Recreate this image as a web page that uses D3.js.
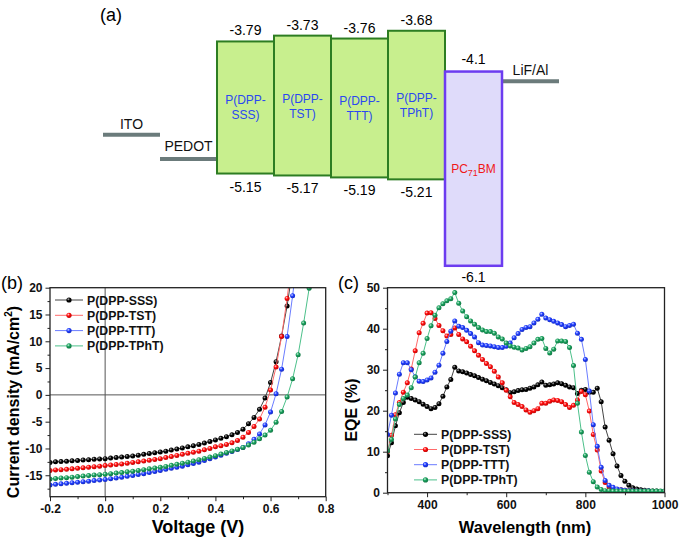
<!DOCTYPE html>
<html><head><meta charset="utf-8">
<script src="https://cdn.jsdelivr.net/npm/d3@7"></script>
<style>body{margin:0;background:#fff}svg{display:block}text{font-family:"Liberation Sans",Arial,sans-serif}</style>
</head><body><svg id="chart" width="679" height="538"></svg>
<script>
// ---------- Panel (a): energy levels ----------
const layerOrder = ["ITO","PEDOT","P(DPP-SSS)","P(DPP-TST)","P(DPP-TTT)","P(DPP-TPhT)","PC71BM","LiF/Al"];
const electrodes = ["ITO","PEDOT","LiF/Al"];
const electrodeLevels = [-4.75,-5.0,-4.2];
const donors = ["P(DPP-SSS)","P(DPP-TST)","P(DPP-TTT)","P(DPP-TPhT)"];
const donorLUMO = [-3.79,-3.73,-3.76,-3.68];
const donorHOMO = [-5.15,-5.17,-5.19,-5.21];
const acceptors = ["PC71BM"];
const acceptorLUMO = [-4.1];
const acceptorHOMO = [-6.1];

// ---------- Panel (b): J-V ----------
const seriesNames = ["P(DPP-SSS)","P(DPP-TST)","P(DPP-TTT)","P(DPP-TPhT)"];
const voltages = [-0.20,-0.18,-0.16,-0.14,-0.12,-0.10,-0.08,-0.06,-0.04,-0.02,0.00,0.02,0.04,0.06,0.08,0.10,0.12,0.14,0.16,0.18,0.20,0.22,0.24,0.26,0.28,0.30,0.32,0.34,0.36,0.38,0.40,0.42,0.44,0.46,0.48,0.50,0.52,0.54,0.56,0.58,0.60,0.62,0.64,0.66,0.68,0.70,0.72,0.74,0.76];
const jSSS = [-12.6,-12.5,-12.45,-12.4,-12.3,-12.25,-12.15,-12.1,-12.0,-11.95,-11.9,-11.8,-11.7,-11.6,-11.5,-11.4,-11.25,-11.1,-10.95,-10.8,-10.65,-10.5,-10.3,-10.1,-9.9,-9.7,-9.5,-9.25,-9.0,-8.7,-8.4,-8.1,-7.8,-7.45,-7.0,-6.4,-5.4,-4.2,-2.7,-0.6,2.3,6.2,11.0,16.6,23.5];
const jTST = [-14.1,-14.0,-13.95,-13.9,-13.8,-13.7,-13.6,-13.5,-13.4,-13.3,-13.2,-13.1,-13.0,-12.9,-12.75,-12.6,-12.5,-12.35,-12.2,-12.05,-11.9,-11.7,-11.5,-11.3,-11.1,-10.9,-10.7,-10.5,-10.25,-10.0,-9.7,-9.5,-9.25,-8.95,-8.5,-7.9,-7.0,-5.9,-4.5,-2.3,0.9,5.2,10.9,18.0,26.0];
const jTTT = [-16.8,-16.7,-16.6,-16.5,-16.4,-16.3,-16.2,-16.1,-16.0,-15.9,-15.8,-15.65,-15.5,-15.35,-15.2,-15.05,-14.85,-14.7,-14.5,-14.3,-14.1,-13.9,-13.7,-13.5,-13.3,-13.05,-12.8,-12.55,-12.25,-11.9,-11.6,-11.25,-10.9,-10.55,-10.2,-9.8,-9.1,-8.3,-7.3,-5.6,-3.2,0.2,4.8,10.9,18.5,27.0];
const jTPhT = [-15.7,-15.6,-15.5,-15.45,-15.35,-15.25,-15.15,-15.05,-14.95,-14.9,-14.8,-14.7,-14.6,-14.5,-14.35,-14.25,-14.1,-13.95,-13.8,-13.65,-13.5,-13.35,-13.15,-12.95,-12.75,-12.55,-12.35,-12.1,-11.85,-11.6,-11.35,-11.05,-10.75,-10.45,-10.15,-9.8,-9.35,-8.85,-8.2,-7.5,-6.6,-5.1,-3.1,-0.4,3.0,7.5,13.4,19.9,27.0];
const jvTicksX = [-0.2,0.0,0.2,0.4,0.6,0.8];
const jvTicksY = [-15,-10,-5,0,5,10,15,20];

// ---------- Panel (c): EQE ----------
const wavelengths = [300,310,320,330,340,350,360,370,380,390,400,410,420,430,440,450,460,470,480,490,500,510,520,530,540,550,560,570,580,590,600,610,620,630,640,650,660,670,680,690,700,710,720,730,740,750,760,770,780,790,800,810,820,830,840,850,860,870,880,890,900,910,920,930,940,950,960,970,980,990,1000];
const eqeSSS = [9.0,12.2,16.3,19.5,22.0,23.3,23.0,22.6,22.2,21.6,21.0,20.5,20.8,21.7,23.5,25.8,27.6,30.6,29.7,29.5,29.2,28.8,28.5,28.1,27.7,27.3,26.9,26.5,26.1,25.6,25.1,24.4,24.6,24.9,25.1,25.2,25.5,25.8,26.3,27.0,26.2,26.3,26.5,26.8,26.6,26.2,25.8,25.6,24.2,25.0,25.2,24.5,24.5,25.5,22.2,16.0,12.8,9.5,6.5,4.2,2.8,1.8,1.2,0.9,0.7,0.6,0.5,0.4,0.4,0.3,0.3];
const eqeTST = [10.0,14.0,19.0,22.0,24.5,26.8,30.2,34.6,39.0,41.3,43.8,43.9,42.5,40.8,39.5,38.2,38.6,40.2,38.6,37.5,36.8,35.7,34.6,33.5,32.5,31.5,30.7,29.6,28.2,26.8,25.0,23.4,22.0,21.5,21.0,20.2,19.6,20.0,20.5,21.8,21.8,22.3,22.6,22.5,22.2,21.5,20.8,21.3,22.6,24.7,23.9,19.9,14.2,10.4,5.3,2.5,1.4,1.0,0.8,0.7,0.6,0.5,0.5,0.4,0.4,0.4,0.3,0.3,0.3,0.3,0.3];
const eqeTTT = [14.2,18.9,24.3,28.9,31.7,31.7,30.0,28.3,27.2,27.1,27.5,28.0,29.4,31.1,34.0,36.9,39.4,41.9,40.6,40.3,39.6,38.8,38.0,36.6,36.0,35.9,35.8,35.6,35.4,35.4,35.7,36.5,37.8,38.8,39.8,40.3,40.5,41.4,42.3,43.5,42.6,42.2,41.8,41.4,41.0,40.5,40.8,41.1,38.9,37.4,32.5,24.8,16.6,11.3,6.2,3.0,1.8,1.3,0.9,0.7,0.6,0.5,0.5,0.4,0.4,0.4,0.4,0.3,0.3,0.3,0.3];
const eqeTPhT = [10.2,13.0,18.0,21.5,23.0,23.8,25.6,28.2,31.7,34.0,37.6,40.7,43.3,45.1,46.1,46.8,47.3,48.8,46.2,44.3,42.9,41.9,41.1,40.3,39.7,39.3,39.3,38.9,38.0,37.5,36.5,35.8,35.5,35.3,34.8,35.2,35.6,36.5,37.4,37.6,35.2,34.1,35.0,37.0,37.0,36.9,35.4,31.0,21.8,14.8,9.1,5.0,2.7,1.4,0.8,0.5,0.5,0.4,0.4,0.4,0.4,0.4,0.4,0.4,0.4,0.4,0.4,0.4,0.4,0.4,0.4];
const eqeTicksX = [400,600,800,1000];
const eqeTicksY = [0,10,20,30,40,50];

// ---------- styles ----------
const markerColors = ["#000000","#ff0a0a","#1f3cff","#18a05c"];
const lineColors = ["#444444","#ff6a6a","#6a7cff","#4cc08a"];
const highlightColors = ["#b0b0b0","#ffd0d0","#d0d8ff","#c8f0dc"];

const svg = d3.select("#chart");
svg.append("rect").attr("width",679).attr("height",538).attr("fill","#fff");
const defs = svg.append("defs");
markerColors.forEach((c,i)=>{
  const g = defs.append("radialGradient").attr("id","mk"+i).attr("cx","38%").attr("cy","35%").attr("r","65%");
  g.append("stop").attr("offset","0%").attr("stop-color",highlightColors[i]);
  g.append("stop").attr("offset","45%").attr("stop-color",c);
  g.append("stop").attr("offset","100%").attr("stop-color",d3.color(c).darker(0.8));
});

// ===== Panel (a) =====
const gA = svg.append("g");
const xA = d3.scaleBand().domain(layerOrder).range([103,559]);
const yA = d3.scaleLinear().domain([-3.6,-6.2]).range([23,275.5]);
gA.append("text").attr("x",100).attr("y",21).attr("font-size",18).text("(a)");

electrodes.forEach((n,i)=>{
  const x0 = xA(n), w = xA.bandwidth(), y = yA(electrodeLevels[i]);
  gA.append("line").attr("x1",x0).attr("x2",x0+w).attr("y1",y).attr("y2",y)
    .attr("stroke","#6b7b7b").attr("stroke-width",4);
  gA.append("text").attr("x",x0+w/2).attr("y",y-(n==="PEDOT"?8:6)).attr("text-anchor","middle")
    .attr("font-size",14).attr("fill","#111").text(n);
});

donors.forEach((n,i)=>{
  const x0 = xA(n), w = xA.bandwidth(), yt = yA(donorLUMO[i]), yb = yA(donorHOMO[i]);
  gA.append("rect").attr("x",x0).attr("y",yt).attr("width",w).attr("height",yb-yt)
    .attr("fill","#c8ef8e").attr("stroke","#2d7d22").attr("stroke-width",2);
  const mid = (yt+yb)/2;
  const t = gA.append("text").attr("text-anchor","middle").attr("font-size",12).attr("fill","#2a48f0");
  t.append("tspan").attr("x",x0+w/2).attr("y",mid-3).text(n.slice(0,6));
  t.append("tspan").attr("x",x0+w/2).attr("y",mid+12).text(n.slice(6));
  gA.append("text").attr("x",x0+w/2).attr("y",yt-6).attr("text-anchor","middle").attr("font-size",14).text(String(donorLUMO[i]));
  gA.append("text").attr("x",x0+w/2).attr("y",yb+18).attr("text-anchor","middle").attr("font-size",14).text(String(donorHOMO[i]));
});

acceptors.forEach((n,i)=>{
  const x0 = xA(n), w = xA.bandwidth(), yt = yA(acceptorLUMO[i]), yb = yA(acceptorHOMO[i]);
  gA.append("rect").attr("x",x0).attr("y",yt).attr("width",w).attr("height",yb-yt)
    .attr("fill","#dfdbfa").attr("stroke","#6c3cf0").attr("stroke-width",2.5);
  const mid = (yt+yb)/2;
  const t = gA.append("text").attr("x",x0+w/2).attr("y",mid+4).attr("text-anchor","middle").attr("font-size",12).attr("fill","#f01818");
  t.append("tspan").text("PC");
  t.append("tspan").attr("font-size",9).attr("dy",3).text("71");
  t.append("tspan").attr("dy",-3).text("BM");
  gA.append("text").attr("x",x0+w/2).attr("y",yt-8).attr("text-anchor","middle").attr("font-size",14).text(String(acceptorLUMO[i]));
  gA.append("text").attr("x",x0+w/2).attr("y",yb+16).attr("text-anchor","middle").attr("font-size",14).text(String(acceptorHOMO[i]));
});

// ===== shared plotting helper =====
function drawPanel(opt){
  const g = svg.append("g");
  const x = d3.scaleLinear().domain(opt.xDomain).range(opt.xRange);
  const y = d3.scaleLinear().domain(opt.yDomain).range(opt.yRange);
  const [L,R] = opt.xRange, [B,T] = opt.yRange;
  const clipId = "clip"+opt.id;
  defs.append("clipPath").attr("id",clipId).append("rect").attr("x",L).attr("y",T).attr("width",R-L).attr("height",B-T);

  // minor ticks
  g.append("g").attr("transform",`translate(0,${B})`)
    .call(d3.axisBottom(x).tickValues(opt.xMinor).tickSize(2.5).tickFormat(""))
    .call(s=>s.select(".domain").remove()).selectAll("line").attr("stroke","#222");
  g.append("g").attr("transform",`translate(${L},0)`)
    .call(d3.axisLeft(y).tickValues(opt.yMinor).tickSize(2.5).tickFormat(""))
    .call(s=>s.select(".domain").remove()).selectAll("line").attr("stroke","#222");
  // major ticks
  const ax = g.append("g").attr("transform",`translate(0,${B})`)
    .call(d3.axisBottom(x).tickValues(opt.xTicks).tickSize(4.5).tickPadding(3).tickFormat(opt.xFmt));
  const ay = g.append("g").attr("transform",`translate(${L},0)`)
    .call(d3.axisLeft(y).tickValues(opt.yTicks).tickSize(4.5).tickPadding(3).tickFormat(opt.yFmt));
  [ax,ay].forEach(a=>{
    a.select(".domain").remove();
    a.selectAll("line").attr("stroke","#222").attr("stroke-width",1);
    a.selectAll("text").attr("font-size",12).attr("font-weight","bold").attr("fill","#111")
      .attr("font-family",'"Liberation Sans",Arial,sans-serif');
  });

  if(opt.zeroLines){
    g.append("line").attr("x1",L).attr("x2",R).attr("y1",y(0)).attr("y2",y(0)).attr("stroke","#555").attr("stroke-width",1);
    g.append("line").attr("x1",x(0)).attr("x2",x(0)).attr("y1",T).attr("y2",B).attr("stroke","#555").attr("stroke-width",1);
  }

  const plot = g.append("g").attr("clip-path",`url(#${clipId})`);
  opt.series.forEach((vals,i)=>{
    const pts = vals.map((v,k)=>[opt.xs[k],v]);
    plot.append("path").datum(pts).attr("fill","none").attr("stroke",lineColors[i]).attr("stroke-width",1)
      .attr("d",d3.line().x(d=>x(d[0])).y(d=>y(d[1])));
    plot.append("g").selectAll("circle").data(pts).join("circle")
      .attr("cx",d=>x(d[0])).attr("cy",d=>y(d[1])).attr("r",2.5).attr("fill",`url(#mk${i})`);
  });

  g.append("rect").attr("x",L).attr("y",T).attr("width",R-L).attr("height",B-T)
    .attr("fill","none").attr("stroke","#222").attr("stroke-width",1.3);

  // legend
  seriesNames.forEach((n,i)=>{
    const yy = opt.legend.y + i*opt.legend.dy;
    g.append("line").attr("x1",opt.legend.x).attr("x2",opt.legend.x+opt.legend.len).attr("y1",yy).attr("y2",yy)
      .attr("stroke",lineColors[i]).attr("stroke-width",1);
    g.append("circle").attr("cx",opt.legend.x+opt.legend.len/2).attr("cy",yy).attr("r",2.6).attr("fill",`url(#mk${i})`);
    g.append("text").attr("x",opt.legend.x+opt.legend.len+4).attr("y",yy+4.5).attr("font-size",12.3)
      .attr("font-weight","bold").attr("fill","#111").text(n);
  });

  // labels
  g.append("text").attr("x",opt.panel[0]).attr("y",opt.panel[1]).attr("font-size",18).text(opt.panelText);
  g.append("text").attr("x",opt.xLabel[0]).attr("y",opt.xLabel[1]).attr("text-anchor","middle")
    .attr("font-size",opt.xLabel[2]).attr("font-weight","bold").text(opt.xLabelText);
  const yl = g.append("text").attr("transform",`translate(${opt.yLabel[0]},${opt.yLabel[1]}) rotate(-90)`)
    .attr("text-anchor","middle").attr("font-size",16).attr("font-weight","bold");
  opt.yLabelText.forEach(p=>{
    const ts = yl.append("tspan").text(p.t);
    if(p.sup){ ts.attr("font-size",10).attr("dy",-7); }
    if(p.after){ ts.attr("dy",7); }
  });
  return g;
}

drawPanel({
  id:"b", xDomain:[-0.2,0.8], xRange:[50,325.7], yDomain:[-19,20], yRange:[496.7,287.7],
  xs:voltages, series:[jSSS,jTST,jTTT,jTPhT],
  xTicks:jvTicksX, xMinor:[-0.1,0.1,0.3,0.5,0.7], xFmt:d=>d.toFixed(1),
  yTicks:jvTicksY, yMinor:[-17.5,-12.5,-7.5,-2.5,2.5,7.5,12.5,17.5], yFmt:d=>String(d),
  zeroLines:true,
  legend:{x:55,y:300,dy:15.3,len:28},
  panel:[1,289], panelText:"(b)",
  xLabel:[198,533,18], xLabelText:"Voltage (V)",
  yLabel:[19,402], yLabelText:[{t:"Current density (mA/cm"},{t:"2",sup:true},{t:")",after:true}]
});

drawPanel({
  id:"c", xDomain:[300,1000], xRange:[387.5,664.5], yDomain:[0,50], yRange:[492.7,287.7],
  xs:wavelengths, series:[eqeSSS,eqeTST,eqeTTT,eqeTPhT],
  xTicks:eqeTicksX, xMinor:[300,500,700,900], xFmt:d=>String(d),
  yTicks:eqeTicksY, yMinor:[5,15,25,35,45], yFmt:d=>String(d),
  zeroLines:false,
  legend:{x:414,y:434.3,dy:15.2,len:23},
  panel:[338,289], panelText:"(c)",
  xLabel:[525,533,16.5], xLabelText:"Wavelength (nm)",
  yLabel:[357,410], yLabelText:[{t:"EQE (%)"}]
});
</script></body></html>
